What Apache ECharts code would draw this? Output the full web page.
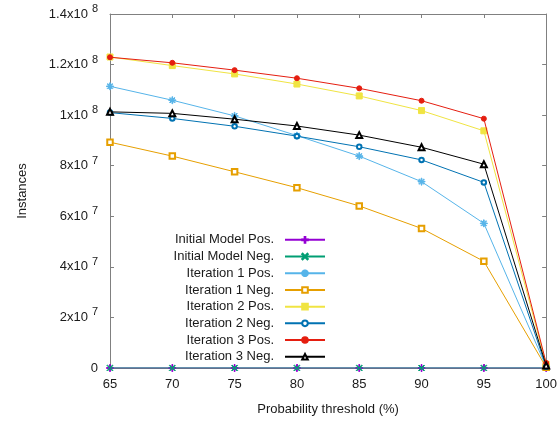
<!DOCTYPE html>
<html>
<head>
<meta charset="utf-8">
<script src="https://cdn.jsdelivr.net/npm/echarts@6/dist/echarts.min.js"></script>
<style>html,body{margin:0;padding:0;background:#fff}#c{width:560px;height:421px}</style>
</head>
<body>
<div id="c"></div>
<script>
const thresholds = [65, 70, 75, 80, 85, 90, 95, 100];
const initPos = [0, 0, 0, 0, 0, 0, 0, 0];
const initNeg = [0, 0, 0, 0, 0, 0, 0, 0];
const it1Pos = [1.114e8, 1.059e8, 0.997e8, 0.919e8, 0.838e8, 0.737e8, 0.572e8, 0.5e6];
const it1Neg = [0.893e8, 0.838e8, 0.776e8, 0.713e8, 0.641e8, 0.552e8, 0.422e8, 0.3e6];
const it2Pos = [1.230e8, 1.196e8, 1.163e8, 1.123e8, 1.076e8, 1.018e8, 0.938e8, 1.5e6];
const it2Neg = [1.010e8, 0.987e8, 0.956e8, 0.917e8, 0.875e8, 0.823e8, 0.734e8, 0.5e6];
const it3Pos = [1.229e8, 1.207e8, 1.178e8, 1.146e8, 1.106e8, 1.057e8, 0.986e8, 2.0e6];
const it3Neg = [1.013e8, 1.007e8, 0.984e8, 0.957e8, 0.921e8, 0.873e8, 0.806e8, 1.0e6];
const seriesNames = ['Initial Model Pos.', 'Initial Model Neg.', 'Iteration 1 Pos.', 'Iteration 1 Neg.',
  'Iteration 2 Pos.', 'Iteration 2 Neg.', 'Iteration 3 Pos.', 'Iteration 3 Neg.'];

const PLUS = 'path://M4.4,0H5.6V4.4H10V5.6H5.6V10H4.4V5.6H0V4.4H4.4Z';
const CROSS = 'path://M0.8,0L5,4.2L9.2,0L10,0.8L5.8,5L10,9.2L9.2,10L5,5.8L0.8,10L0,9.2L4.2,5L0,0.8Z';
const STAR = 'path://M4.5,0H5.5V3.8L8.2,1.1L8.9,1.8L6.2,4.5H10V5.5H6.2L8.9,8.2L8.2,8.9L5.5,6.2V10H4.5V6.2L1.8,8.9L1.1,8.2L3.8,5.5H0V4.5H3.8L1.1,1.8L1.8,1.1L4.5,3.8Z';

const styles = [
  {data: initPos, color: '#9400d3', symbol: PLUS, size: 7},
  {data: initNeg, color: '#009e73', symbol: CROSS, size: 6},
  {data: it1Pos, color: '#56b4e9', symbol: STAR, size: 7},
  {data: it1Neg, color: '#e69f00', symbol: 'emptyRect', size: 5.5},
  {data: it2Pos, color: '#f0e442', symbol: 'rect', size: 6},
  {data: it2Neg, color: '#0072b2', symbol: 'emptyCircle', size: 4.5},
  {data: it3Pos, color: '#e51e10', symbol: 'circle', size: 5},
  {data: it3Neg, color: '#000000', symbol: 'emptyTriangle', size: 6}
];

const FONT = 'Liberation Sans, Arial, sans-serif';
const AX = '#808080';
const TXT = '#1a1a1a';

function yFmt(v) {
  if (v === 0) return '0';
  const e = Math.floor(Math.log10(v) + 1e-9);
  const m = +(v / Math.pow(10, e)).toFixed(1);
  return '{m|' + m + 'x10}{e|' + e + '}';
}

const series = styles.map((s, i) => ({
  name: seriesNames[i],
  type: 'line',
  data: thresholds.map((x, j) => [x, s.data[j]]),
  symbol: s.symbol,
  symbolSize: s.size,
  showAllSymbol: true,
  color: s.color,
  lineStyle: {width: 1, color: s.color},
  itemStyle: {color: s.color, borderColor: s.color, borderWidth: 1},
  emphasis: {disabled: true},
  animation: false,
  z: 2 + i
}));

const chart = echarts.init(document.getElementById('c'));
chart.setOption({
  animation: false,
  backgroundColor: '#fff',
  textStyle: {fontFamily: FONT},
  grid: {left: 110, right: 13, top: 14, bottom: 53, containLabel: false},
  legend: {
    orient: 'vertical',
    align: 'right',
    right: 234,
    top: 231.5,
    padding: 0,
    itemGap: 0,
    itemWidth: 40,
    itemHeight: 7,
    textStyle: {fontSize: 13, color: TXT, lineHeight: 16.7, fontFamily: FONT, padding: [0, 6, 0, 0]},
    data: seriesNames
  },
  xAxis: [{
    type: 'value', min: 65, max: 100, interval: 5,
    name: 'Probability threshold (%)', nameLocation: 'middle', nameGap: 35,
    nameTextStyle: {fontSize: 13, color: TXT, fontFamily: FONT},
    axisLine: {show: true, onZero: false, lineStyle: {color: AX, width: 1}},
    axisTick: {show: true, inside: true, length: 4, lineStyle: {color: AX}},
    axisLabel: {fontSize: 13, color: TXT, margin: 10, fontFamily: FONT},
    splitLine: {show: false}
  }, {
    type: 'value', min: 65, max: 100, interval: 5, position: 'top',
    axisLine: {show: true, onZero: false, lineStyle: {color: AX, width: 1}},
    axisTick: {show: true, inside: true, length: 4, lineStyle: {color: AX}},
    axisLabel: {show: false}, splitLine: {show: false}
  }],
  yAxis: [{
    type: 'value', min: 0, max: 1.4e8, interval: 2e7,
    name: 'Instances', nameLocation: 'middle', nameGap: 81, nameRotate: 90,
    nameTextStyle: {fontSize: 13, color: TXT, fontFamily: FONT},
    axisLine: {show: true, onZero: false, lineStyle: {color: AX, width: 1}},
    axisTick: {show: true, inside: true, length: 4, lineStyle: {color: AX}},
    axisLabel: {
      fontSize: 13, color: TXT, margin: 12, fontFamily: FONT,
      formatter: yFmt,
      rich: {
        m: {fontSize: 13, color: TXT, fontFamily: FONT, verticalAlign: 'middle'},
        e: {fontSize: 11, color: TXT, fontFamily: FONT, verticalAlign: 'middle', padding: [0, 0, 10, 4]}
      }
    },
    splitLine: {show: false}
  }, {
    type: 'value', min: 0, max: 1.4e8, interval: 2e7, position: 'right',
    axisLine: {show: true, onZero: false, lineStyle: {color: AX, width: 1}},
    axisTick: {show: true, inside: true, length: 4, lineStyle: {color: AX}},
    axisLabel: {show: false}, splitLine: {show: false}
  }],
  series: series
});
</script>
</body>
</html>
